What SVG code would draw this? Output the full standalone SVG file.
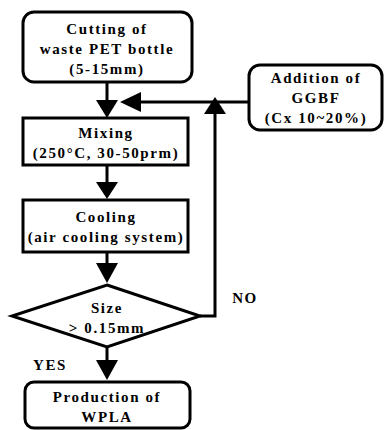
<svg xmlns="http://www.w3.org/2000/svg" width="385" height="430" viewBox="0 0 385 430">
<defs>
<style>
.box{fill:#fff;stroke:#000;stroke-width:3}
.ln{fill:none;stroke:#000;stroke-width:3}
.ah{fill:#000}
text{font-family:"Liberation Serif","Times New Roman",serif;font-weight:bold;font-size:15px;letter-spacing:1.6px;fill:#000;text-anchor:middle}
</style>
</defs>
<rect width="385" height="430" fill="#fff"/>
<g id="connectors">
<line class="ln" x1="107" y1="82" x2="107" y2="102"/>
<polygon class="ah" points="96,100 118,100 107,118"/>
<line class="ln" x1="249" y1="102" x2="138" y2="102"/>
<polygon class="ah" points="120,102 141,92 141,112"/>
<polyline class="ln" points="200,316 215,316 215,112"/>
<polygon class="ah" points="215,97 204,114 226,114"/>
<line class="ln" x1="107" y1="165" x2="107" y2="184"/>
<polygon class="ah" points="96,182 118,182 107,199"/>
<line class="ln" x1="107" y1="252" x2="107" y2="265"/>
<polygon class="ah" points="96,263 118,263 107,283"/>
<line class="ln" x1="107" y1="347" x2="107" y2="362"/>
<polygon class="ah" points="96,360 118,360 107,380"/>
<text x="50" y="370">YES</text>
<text x="245" y="303">NO</text>
</g>
<g id="cutting">
<rect class="box" x="23" y="12" width="169" height="70" rx="11"/>
<text x="107" y="34">Cutting of</text>
<text x="107" y="54">waste PET bottle</text>
<text x="107" y="74">(5-15mm)</text>
</g>
<g id="addition">
<rect class="box" x="249" y="65" width="133" height="65" rx="11"/>
<text x="316" y="83">Addition of</text>
<text x="316" y="103">GGBF</text>
<text x="316" y="123">(Cx 10~20%)</text>
</g>
<g id="mixing">
<rect class="box" x="23" y="118" width="165" height="47"/>
<text x="106" y="138">Mixing</text>
<text x="106" y="158">(250°C, 30-50prm)</text>
</g>
<g id="cooling">
<rect class="box" x="23" y="200" width="165" height="52"/>
<text x="106" y="222">Cooling</text>
<text x="106" y="242">(air cooling system)</text>
</g>
<g id="size">
<polygon class="box" points="107,285 200,316 107,347 12,316"/>
<text x="107" y="313">Size</text>
<text x="107" y="333">&gt; 0.15mm</text>
</g>
<g id="production">
<rect class="box" x="25" y="382" width="165" height="46" rx="9"/>
<text x="107" y="402">Production of</text>
<text x="107" y="422">WPLA</text>
</g>
</svg>
